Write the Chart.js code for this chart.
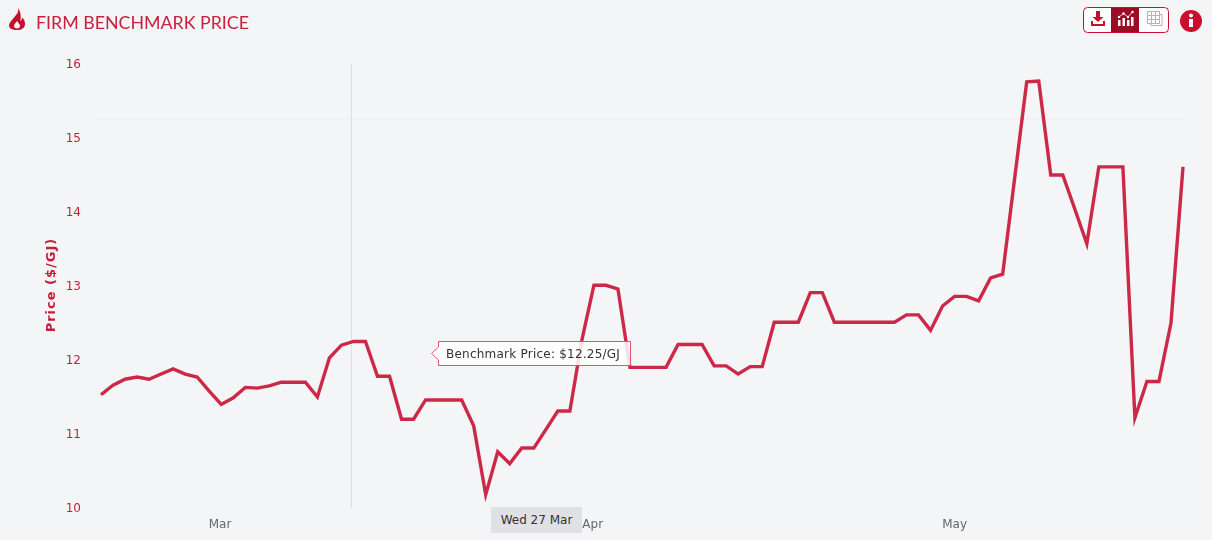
<!DOCTYPE html>
<html>
<head>
<meta charset="utf-8">
<title>Firm Benchmark Price</title>
<script src="https://cdn.jsdelivr.net/npm/chart.js@4/dist/chart.umd.min.js"></script>
<style>
    html, body { margin: 0; padding: 0; background: #f4f5f7; overflow: hidden; }
    #wrap { position: relative; width: 1212px; height: 540px; font-family: "DejaVu Sans", sans-serif; }
    #chart { position: absolute; left: 0; top: 0; }
    .title { position: absolute; left: 36px; top: 11px; font: 17.8px/22px Lato, sans-serif; color: #c8203f; white-space: nowrap; }
    .abs { position: absolute; left: 0; top: 0; }
    .y-title {
        position: absolute; left: 50px; top: 285px; white-space: nowrap;
        font-size: 13px; font-weight: bold; letter-spacing: 1px; color: #c41e3a;
        transform: translate(-50%, -50%) rotate(-90deg);
    }
    .date-label {
        position: absolute; left: 491px; top: 507px; width: 91px; height: 26px;
        background: #e0e1e4; color: #333; font-size: 12px; line-height: 26px; text-align: center;
    }
</style>
</head>
<body>
<div id="wrap">
    <canvas id="chart" width="1212" height="540"></canvas>

    <!-- flame icon -->
    <svg class="abs" width="40" height="40">
        <path fill="#c8102e" fill-rule="evenodd" d="M18 8c1 4-1 6-4 9.500-2.500 3-5 5.500-5 8 0 3 3.500 4.500 8 4.500s8-2 8-6c0-3-1-5-3-6.500 0 2-.5 3-1.500 3.500C21 17 21 12 18 8zM17 21c-1.500 2-3 3.500-3 5 0 1.500 1.300 2.500 3 2.500s3-1 3-2.500c0-1.500-1.500-3-3-5z"/>
    </svg>
    <div class="title">FIRM BENCHMARK PRICE</div>
    <div class="y-title">Price ($/GJ)</div>

    <!-- toolbar -->
    <svg class="abs" width="1212" height="45">
        <rect x="1083.500" y="7.500" width="85" height="25" rx="4" fill="#fff" stroke="#c8102e"/>
        <rect x="1111" y="8" width="28" height="24" fill="#9b0c26"/>
        <path d="M1096 11h4v6h3.500l-5.500 5-5.500-5h3.500z M1091 21h2v3h10v-3h2v5h-14z" fill="#c8102e"/>
        <g fill="#fff">
            <rect x="1118" y="20" width="2.500" height="6"/>
            <rect x="1122.500" y="18" width="2.500" height="8"/>
            <rect x="1127" y="20" width="2.500" height="6"/>
            <rect x="1131" y="17" width="2.500" height="9"/>
            <path d="M1119 17l4.500-3.500 4.500 3.500 4.500-5" fill="none" stroke="#f2c9d2" stroke-width="1"/>
            <circle cx="1119" cy="17" r="1.200"/>
            <circle cx="1123.500" cy="13.500" r="1.200"/>
            <circle cx="1128" cy="17" r="1.200"/>
            <circle cx="1132.500" cy="12" r="1.200"/>
        </g>
        <g fill="none" stroke="#e2a0ad" stroke-width="1">
            <rect x="1147.500" y="11.500" width="12" height="12"/>
            <path d="M1147.500 15.500h12M1147.500 19.500h12M1151.500 11.500v12M1155.500 11.500v12M1159.500 14.500h2.500v11h-11v-2"/>
        </g>
        <circle cx="1191" cy="21" r="11" fill="#c8102e"/>
        <rect x="1189" y="19" width="4" height="8" fill="#fff"/>
        <circle cx="1191" cy="15.500" r="2" fill="#fff"/>
    </svg>

    <!-- hover tooltip -->
    <svg class="abs" width="1212" height="540">
        <path d="M438.500 341.500H630.500V365.500H438.500V360L431.500 353.500L438.500 347Z" fill="rgba(255,255,255,0.85)" stroke="#dc5470"/>
        <text x="446" y="358" font-family="DejaVu Sans" font-size="12" letter-spacing="0.23" fill="#333">Benchmark Price: $12.25/GJ</text>
    </svg>
    <div class="date-label">Wed 27 Mar</div>
</div>

<script>
const prices = [
    11.53, 11.66, 11.74, 11.77, 11.74, 11.81, 11.88, 11.81, 11.77, 11.58,
    11.40, 11.49, 11.63, 11.62, 11.65, 11.70, 11.70, 11.70, 11.50, 12.03,
    12.20, 12.25, 12.25, 11.78, 11.78, 11.20, 11.20, 11.46, 11.46, 11.46,
    11.46, 11.11, 10.18, 10.76, 10.60, 10.81, 10.81, 11.06, 11.31, 11.31,
    12.27, 13.01, 13.01, 12.96, 11.90, 11.90, 11.90, 11.90, 12.21, 12.21,
    12.21, 11.92, 11.92, 11.81, 11.91, 11.91, 12.51, 12.51, 12.51, 12.91,
    12.91, 12.51, 12.51, 12.51, 12.51, 12.51, 12.51, 12.61, 12.61, 12.40,
    12.73, 12.86, 12.86, 12.80, 13.11, 13.16, 14.46, 15.76, 15.77, 14.50,
    14.50, 14.04, 13.57, 14.61, 14.61, 14.61, 11.22, 11.71, 11.71, 12.50,
    14.61
];

const monthTicks = [9.9, 40.9, 71];
const monthLabels = ['Mar', 'Apr', 'May'];
const priceTicks = [10, 11, 12, 13, 14, 15, 16];

const crosshairDay = 20.8;
const referencePrice = 15.25;

const red = '#c41e3a';

// hover crosshair and the faint plot line sit under the series
const underlay = {
    id: 'underlay',
    beforeDraw(chart) {
        // nudge the price labels down a pixel, there is no tick option for it
        if (!chart.$labelsMoved) {
            chart.scales.y.getLabelItems().forEach(item => { item.textOffset += 1; });
            chart.$labelsMoved = true;
        }
    },
    beforeDatasetsDraw(chart) {
        const { ctx, chartArea, scales } = chart;
        ctx.save();
        ctx.lineWidth = 1;

        const y = Math.round(scales.y.getPixelForValue(referencePrice)) - 0.5;
        ctx.strokeStyle = '#eeeff2';
        ctx.beginPath();
        ctx.moveTo(chartArea.left - 6, y);
        ctx.lineTo(chartArea.right + 2, y);
        ctx.stroke();

        const x = Math.round(scales.x.getPixelForValue(crosshairDay)) + 0.5;
        ctx.strokeStyle = '#dcdee2';
        ctx.beginPath();
        ctx.moveTo(x, chartArea.top);
        ctx.lineTo(x, chartArea.bottom);
        ctx.stroke();
        ctx.restore();
    }
};

new Chart(document.getElementById('chart').getContext('2d'), {
    type: 'line',
    data: {
        datasets: [{
            label: 'Benchmark Price',
            data: prices.map((y, x) => ({ x, y })),
            borderColor: '#cc2848',
            borderWidth: 3.4,
            pointRadius: 0,
            tension: 0,
            clip: false,
            borderCapStyle: 'butt',
            borderJoinStyle: 'miter'
        }]
    },
    options: {
        responsive: false,
        animation: false,
        layout: { padding: { top: 64, right: 29, left: 0, bottom: 0 } },
        plugins: {
            legend: { display: false },
            tooltip: { enabled: false }
        },
        scales: {
            x: {
                type: 'linear',
                min: 0,
                max: 90,
                afterBuildTicks(axis) { axis.ticks = monthTicks.map(value => ({ value })); },
                afterFit(axis) { axis.height = 32; },
                grid: { display: false },
                border: { display: false },
                ticks: {
                    autoSkip: false,
                    maxRotation: 0,
                    padding: 2,
                    color: '#666',
                    font: { family: 'DejaVu Sans', size: 12 },
                    callback(value) { return monthLabels[monthTicks.indexOf(value)]; }
                }
            },
            y: {
                min: 10,
                max: 16,
                afterBuildTicks(axis) { axis.ticks = priceTicks.map(value => ({ value })); },
                afterFit(axis) { axis.width = 101; },
                grid: { display: false },
                border: { display: false },
                ticks: {
                    padding: 12,
                    color: red,
                    font: { family: 'DejaVu Sans', size: 12 }
                }
            }
        }
    },
    plugins: [underlay]
});
</script>
</body>
</html>
